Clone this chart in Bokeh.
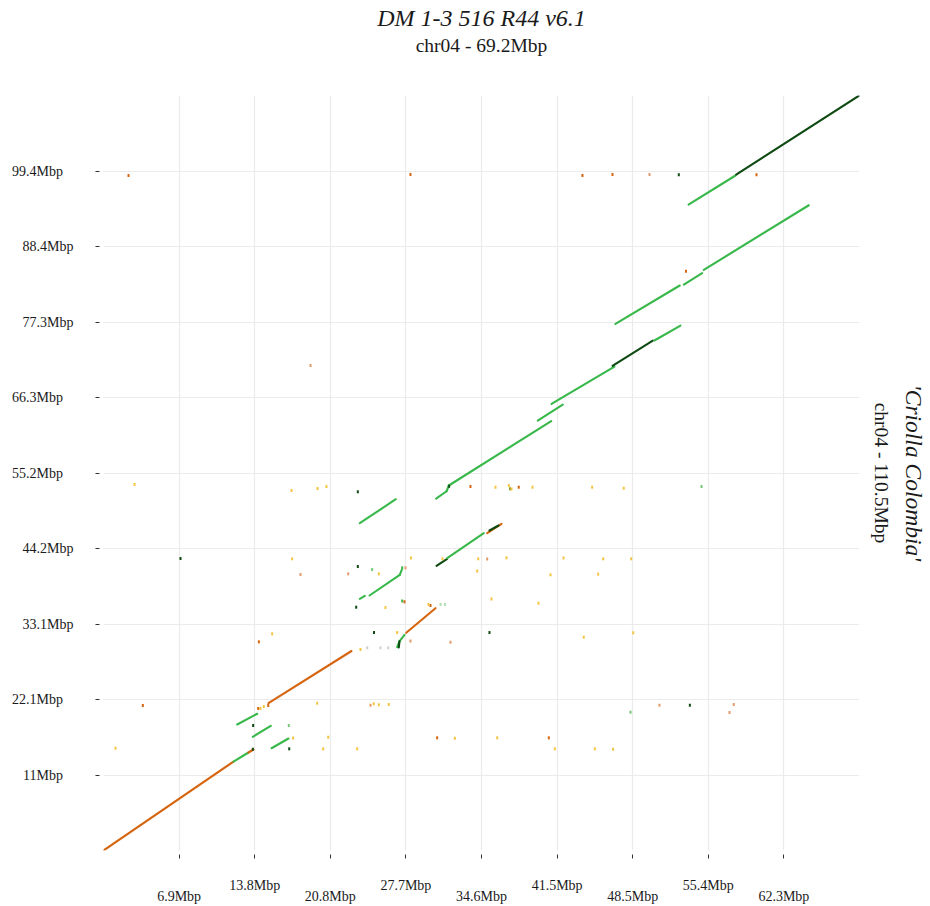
from bokeh.plotting import figure
from bokeh.models import Range1d, FixedTicker, LinearAxis, ColumnDataSource
from bokeh.embed import file_html
from bokeh.resources import INLINE

# ---------------- data (Mbp) ----------------
x_tick_values = [6.92, 13.84, 20.76, 27.68, 34.60, 41.52, 48.44, 55.36, 62.28]
x_tick_labels = ["6.9Mbp", "13.8Mbp", "20.8Mbp", "27.7Mbp", "34.6Mbp",
                 "41.5Mbp", "48.5Mbp", "55.4Mbp", "62.3Mbp"]
y_tick_values = [11.05, 22.10, 33.15, 44.20, 55.25, 66.30, 77.35, 88.40, 99.45]
y_tick_labels = ["11Mbp", "22.1Mbp", "33.1Mbp", "44.2Mbp", "55.2Mbp",
                 "66.3Mbp", "77.3Mbp", "88.4Mbp", "99.4Mbp"]
x_total = 69.2
y_total = 110.5
title_text = "DM 1-3 516 R44 v6.1"
subtitle_text = "chr04 - 69.2Mbp"
y_title_text = "'Criolla Colombia'"
y_subtitle_text = "chr04 - 110.5Mbp"

# alignment segments: start (x0,y0) -> end (x1,y1), kind
seg_x0 = [0.00, 11.90, 13.27, 12.24, 13.67, 15.38, 15.10, 23.46, 24.35, 27.12,
          23.46, 30.45, 31.40, 31.61, 39.75, 41.01, 46.59, 50.43, 46.86, 53.12,
          54.95, 53.55, 57.91, 30.48, 31.46, 35.12, 35.33, 27.71, 26.88, 27.09,
          27.03]
seg_y0 = [0.00, 13.02, 14.34, 18.44, 16.64, 14.97, 21.56, 36.84, 37.32, 40.35,
          47.90, 51.51, 52.58, 53.42, 62.93, 65.37, 70.94, 74.64, 77.08, 82.83,
          84.98, 94.54, 98.93, 41.67, 42.78, 46.44, 46.83, 31.86, 29.75, 30.62,
          29.71]
seg_x1 = [11.90, 13.27, 13.73, 14.07, 15.31, 16.93, 22.70, 23.92, 27.12, 27.30,
          26.76, 31.40, 31.61, 40.98, 42.04, 46.77, 50.28, 52.81, 52.75, 54.80,
          64.56, 57.85, 69.17, 31.46, 34.81, 36.43, 36.16, 30.39, 27.09, 27.55,
          27.09]
seg_y1 = [13.02, 14.34, 14.78, 20.01, 18.25, 16.39, 29.20, 37.27, 40.35, 41.08,
          51.41, 52.58, 53.42, 62.83, 65.27, 70.83, 74.64, 76.83, 82.69, 84.49,
          94.44, 98.79, 110.49, 42.69, 46.44, 47.81, 47.56, 35.46, 30.62, 31.57,
          30.62]
seg_kind = ["orange", "green", "orange", "green", "green", "green", "orange", "green", "green", "green",
            "green", "green", "green", "green", "green", "green", "dark", "green", "green", "green",
            "green", "green", "dark", "dark", "green", "orange", "dark", "orange", "green", "green",
            "dark"]

# small scattered hits
dot_x = [2.29, 28.10, 43.84, 46.59, 49.98, 52.66, 59.77, 53.32, 18.95, 2.84,
         17.21, 19.59, 20.41, 23.28, 31.64, 33.59, 35.88, 37.10, 37.21, 37.35,
         38.01, 39.27, 44.73, 47.62, 54.74, 7.05, 17.27, 18.03, 22.40, 23.28,
         24.59, 25.20, 27.34, 27.64, 28.15, 31.03, 34.30, 35.12, 36.89, 42.11,
         45.74, 48.30, 34.21, 40.92, 45.28, 23.13, 25.81, 27.34, 27.55, 29.93,
         29.75, 30.85, 31.25, 35.51, 39.82, 15.44, 14.22, 24.76, 26.88, 28.10,
         31.76, 35.33, 43.96, 48.49, 23.52, 24.14, 25.35, 26.06, 3.60, 1.10,
         19.56, 24.44, 24.74, 25.20, 26.11, 14.16, 14.37, 14.67, 15.08, 13.70,
         16.96, 17.36, 20.57, 20.11, 23.22, 17.00, 13.67, 30.54, 32.16, 36.04,
         40.76, 41.31, 44.97, 46.65, 48.24, 50.89, 53.67, 57.69, 57.30]
dot_y = [98.79, 98.93, 98.79, 98.93, 98.93, 98.89, 98.89, 84.78, 70.98, 53.56,
         52.69, 52.98, 53.27, 52.50, 53.31, 53.27, 53.17, 53.42, 52.94, 52.91,
         53.17, 53.17, 53.17, 53.02, 53.27, 42.73, 42.69, 40.39, 40.49, 41.56,
         41.12, 40.49, 41.37, 41.37, 42.81, 42.69, 42.69, 42.66, 42.84, 42.81,
         42.69, 42.69, 40.90, 40.35, 40.44, 35.61, 35.56, 36.52, 36.40, 35.86,
         36.00, 36.00, 36.00, 36.81, 36.19, 31.71, 30.54, 31.90, 31.90, 30.66,
         30.48, 31.90, 31.22, 31.86, 29.42, 29.66, 29.66, 29.66, 21.22, 14.97,
         21.56, 21.26, 21.47, 21.32, 21.37, 20.78, 20.78, 21.07, 21.22, 18.29,
         18.29, 16.46, 16.58, 14.88, 14.88, 14.88, 14.83, 16.49, 16.43, 16.49,
         16.49, 14.88, 14.88, 14.81, 20.24, 21.26, 21.26, 21.37, 20.20]
dot_kind = ["orange", "orange", "orange", "orange", "tan", "dark", "orange", "orange", "tan", "yellow",
            "yellow", "yellow", "yellow", "dark", "dark", "orange", "yellow", "yellow", "olive", "yellow",
            "orange", "yellow", "yellow", "yellow", "lgreen", "dark", "yellow", "tan", "tan", "dark",
            "lgreen", "yellow", "green", "tan", "yellow", "yellow", "yellow", "tan", "yellow", "yellow",
            "yellow", "yellow", "yellow", "yellow", "yellow", "dark", "yellow", "green", "orange", "orange",
            "yellow", "pale", "pale", "yellow", "yellow", "yellow", "orange", "dark", "yellow", "tan",
            "tan", "dark", "yellow", "yellow", "yellow", "grey", "grey", "grey", "orange", "yellow",
            "yellow", "tan", "yellow", "yellow", "yellow", "orange", "yellow", "yellow", "orange", "dark",
            "lgreen", "yellow", "yellow", "yellow", "yellow", "dark", "dark", "orange", "yellow", "yellow",
            "orange", "yellow", "yellow", "yellow", "lgreen", "tan", "dark", "tan", "tan"]

# ---------------- styling ----------------
COLORS = {"orange": "#d6650f", "green": "#38b84a", "dark": "#0e4a12",
          "yellow": "#f4c542", "tan": "#e29a68", "olive": "#8a9a30",
          "lgreen": "#74c874", "pale": "#b0dcb0", "grey": "#cfcfcf"}
FONT = "Liberation Serif"
TEXT_COLOR = "#1a1a1a"

p = figure(width=930, height=906, output_backend="svg", toolbar_location=None,
           title=title_text,
           x_range=Range1d(0, x_total), y_range=Range1d(0, y_total),
           min_border_left=103, min_border_right=71, min_border_top=95,
           min_border_bottom=56)
p.outline_line_color = None
p.background_fill_color = "white"
p.border_fill_color = "white"

seg_src = ColumnDataSource(dict(x0=seg_x0, y0=seg_y0, x1=seg_x1, y1=seg_y1,
                                color=[COLORS[k] for k in seg_kind]))
p.segment("x0", "y0", "x1", "y1", source=seg_src, line_color="color",
          line_width=2.1, line_cap="round")

dot_src = ColumnDataSource(dict(x=dot_x, y=dot_y,
                                color=[COLORS[k] for k in dot_kind]))
p.rect("x", "y", width=2, height=3, width_units="screen", height_units="screen",
       source=dot_src, fill_color="color", line_color=None)

# main axes
for ax in (p.xaxis[0], p.yaxis[0]):
    ax.axis_line_color = None
    ax.minor_tick_line_color = None
    ax.major_tick_line_color = "#333333"
    ax.major_tick_line_width = 1
    ax.major_tick_in = -4
    ax.major_tick_out = 8
    ax.major_label_text_font = FONT
    ax.major_label_text_font_size = "14px"
    ax.major_label_text_color = TEXT_COLOR

p.xaxis.ticker = FixedTicker(ticks=x_tick_values)
p.xaxis.major_label_overrides = {
    v: (("\n" + lab) if i % 2 == 0 else lab)
    for i, (v, lab) in enumerate(zip(x_tick_values, x_tick_labels))}
p.xaxis.major_label_text_line_height = 0.75
p.xaxis.major_label_standoff = 19

p.yaxis.ticker = FixedTicker(ticks=y_tick_values)
inner = {2, 3, 6, 7}
p.yaxis.major_label_overrides = {
    v: (lab if i in inner else lab + "\u00a0\u00a0\u00a0")
    for i, (v, lab) in enumerate(zip(y_tick_values, y_tick_labels))}
p.yaxis.major_label_standoff = 22

p.xgrid.grid_line_color = "#ebebeb"
p.ygrid.grid_line_color = "#ebebeb"
p.xgrid.grid_line_width = 1.2
p.ygrid.grid_line_width = 1.2


def label_axis(text, size, style, standoff):
    ax = LinearAxis(ticker=FixedTicker(ticks=[]), axis_label=text)
    ax.axis_line_color = None
    ax.major_tick_line_color = None
    ax.minor_tick_line_color = None
    ax.major_tick_in = 0
    ax.major_tick_out = 0
    ax.minor_tick_in = 0
    ax.minor_tick_out = 0
    ax.major_label_standoff = 0
    ax.axis_label_standoff = standoff
    ax.axis_label_text_font = FONT
    ax.axis_label_text_font_size = size
    ax.axis_label_text_font_style = style
    ax.axis_label_text_color = TEXT_COLOR
    return ax


# title (outermost) and subtitle (axis label above the frame)
p.title.align = "center"
p.title.text_font = FONT
p.title.text_font_size = "24px"
p.title.text_font_style = "italic"
p.title.text_color = TEXT_COLOR
p.title.standoff = 2
p.add_layout(label_axis(subtitle_text, "19.5px", "normal", 40), "above")

# right side: genome length label, then genotype name further out
p.add_layout(label_axis(y_subtitle_text, "19.5px", "normal", 11), "right")
p.add_layout(label_axis(y_title_text, "23.5px", "italic", 6), "right")

open("out.html", "w").write(file_html(p, INLINE))
